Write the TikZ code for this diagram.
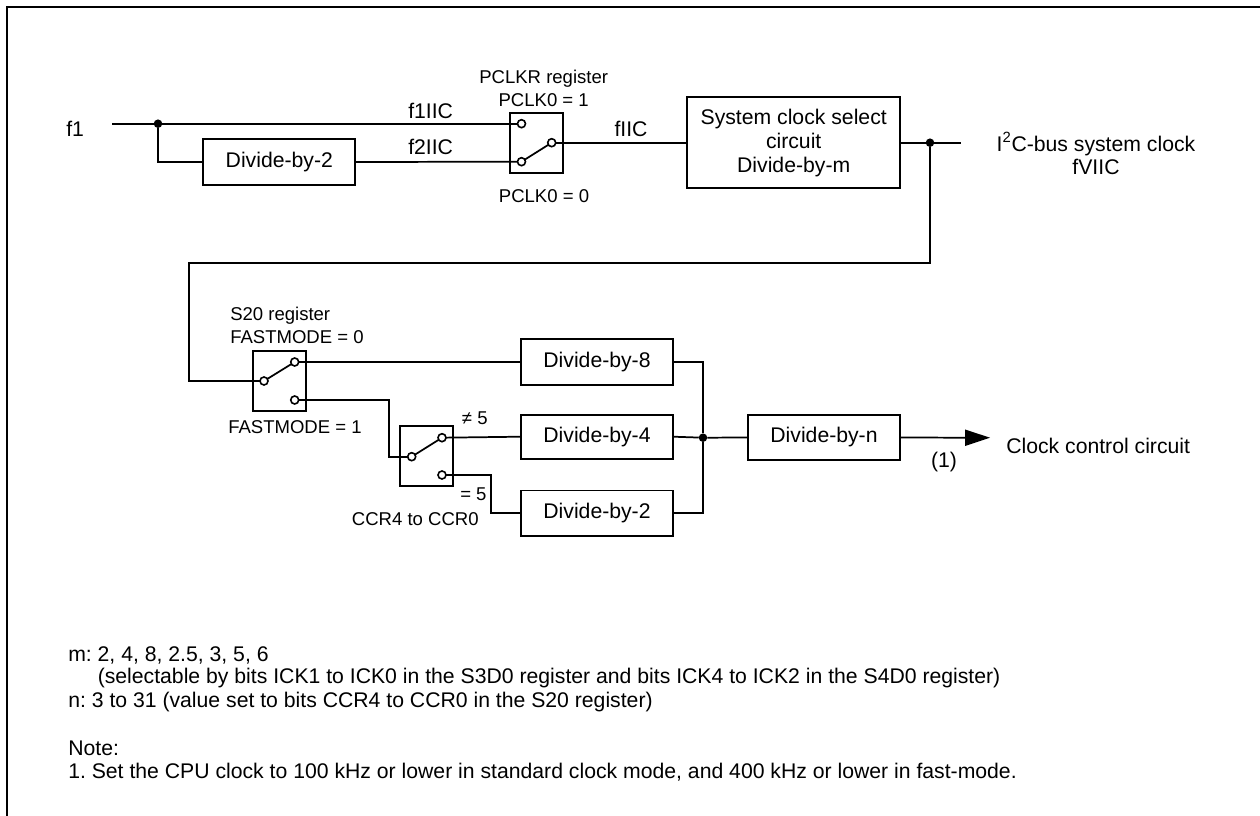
\documentclass[tikz,border=0pt]{standalone}
\usepackage{fontspec}
\setmainfont{Liberation Sans}
\begin{document}
\frenchspacing
\begin{tikzpicture}[x=0.75pt,y=-0.75pt,
  wire/.style={line width=1.3pt},
  blockbox/.style={draw,line width=1.3pt,inner sep=0pt,outer sep=0pt,align=center,font=\fontsize{15.9pt}{18pt}\selectfont},
  swbox/.style={draw,line width=1.3pt,inner sep=0pt,outer sep=0pt,minimum width=39.75pt,minimum height=45pt},
  contact/.style={circle,draw,fill=white,line width=1.2pt,inner sep=0pt,outer sep=0pt,minimum size=6pt},
  dot/.style={circle,fill=black,inner sep=0pt,outer sep=0pt,minimum size=6.4pt},
  big/.style={inner sep=0pt,font=\fontsize{15.9pt}{18pt}\selectfont},
  small/.style={inner sep=0pt,font=\fontsize{13.9pt}{16pt}\selectfont}]
\useasboundingbox (0,0) rectangle (1260,816);
\draw[line width=1.5pt] (7,816) -- (7,7) -- (1260,7);
\def\bx#1#2#3#4#5#6{\node[blockbox,minimum width=#4*0.75pt,minimum height=#5*0.75pt] (#1) at (#2,#3) {#6};}
% row one
\coordinate (in) at (112,123.7);
\node[dot] (j1) at (158,123.7) {};
\bx{d2}{279.3}{162}{152}{45.4}{Divide-by-2}
\node[swbox] (sw1) at (536.5,143) {};
\node[contact] (c1a) at (521.5,123.7) {};
\node[contact] (c1b) at (521.5,161.7) {};
\node[contact] (c1o) at (551.7,142.7) {};
\bx{sys}{793.7}{142.7}{212.7}{90.7}{System clock select\\circuit\\Divide-by-m}
\coordinate (out) at (961,142.7);
\node[dot] (j2) at (930,142.7) {};
\draw[wire] (in) -- (j1) -- (c1a);
\draw[wire] (j1) |- (d2.west);
\draw[wire] (d2.east) -- (c1b);
\draw[wire] (c1b) -- (c1o);
\draw[wire] (c1o) -- (sys.west);
\draw[wire] (sys.east) -- (out);
% switch two
\node[swbox] (sw2) at (279.5,381) {};
\node[contact] (c2i) at (264,381) {};
\node[contact] (c2a) at (294.7,362) {};
\node[contact] (c2b) at (294.7,400) {};
\node[swbox] (sw3) at (426.7,456) {};
\node[contact] (c3i) at (411.7,456.7) {};
\node[contact] (c3a) at (442,437.7) {};
\node[contact] (c3b) at (442,475) {};
\bx{d8}{597}{362}{152}{45.4}{Divide-by-8}
\bx{d4}{597}{436.7}{152}{44}{Divide-by-4}
\bx{d22}{597}{513.3}{152}{45.4}{Divide-by-2}
\bx{dn}{824}{437.5}{152}{45}{Divide-by-n}
\node[dot] (j3) at (703,437.7) {};
\coordinate (tip) at (990,437.7);
\coordinate (c1) at (930,263.3);
\coordinate (c2) at (188.7,263.3);
\coordinate (c3) at (188.7,381);
\draw[wire] (j2) -- (c1) -- (c2) -- (c3) -- (c2i);
\draw[wire] (c2i) -- (c2a);
\draw[wire] (c2a) -- (d8.west);
\draw[wire] (c2b) -- (389,400) -- (389,456.7) -- (c3i);
\draw[wire] (c3i) -- (c3a);
\draw[wire] (c3a) -- (d4.west);
\draw[wire] (c3b) -- (491.3,475) -- (491.3,513.3) -- (d22.west);
\draw[wire] (d8.east) -| (j3);
\draw[wire] (d22.east) -| (j3);
\draw[wire] (d4.east) -- (j3) -- (dn.west);
\draw[wire] (dn.east) -- (965,437.7);
\fill (965,429.5) -- (tip) -- (965,446) -- cycle;
% labels
\node[big,anchor=west] (t1) at (66,129) {f1};
\node[big,anchor=west] (t2) at (408,110.7) {f1IIC};
\node[big,anchor=west] (t3) at (408,147) {f2IIC};
\node[small] (t4) at (543.7,79) {PCLKR register};
\node[small] (t5) at (543.7,100) {PCLK0 = 1};
\node[small] (t6) at (544,196) {PCLK0 = 0};
\node[big] (t7) at (631,129) {fIIC};
\node[big] (t8) at (1096,144) {I\textsuperscript{2}C-bus system clock};
\node[big] (t9) at (1096,166.7) {fVIIC};
\node[small,anchor=west] (t10) at (230,316) {S20 register};
\node[small,anchor=west] (t11) at (230,336.7) {FASTMODE = 0};
\node[small,anchor=west] (t12) at (228,427) {FASTMODE = 1};
\node[small,anchor=west] (t13) at (461.7,418) {≠ 5};
\node[small,anchor=west] (t14) at (460,494) {= 5};
\node[small,anchor=west] (t15) at (351.7,519) {CCR4 to CCR0};
\node[big] (t16) at (944,461.7) {(1)};
\node[big,anchor=west] (t17) at (1006,446) {Clock control circuit};
\node[big,anchor=west] (t18) at (68,655) {m: 2, 4, 8, 2.5, 3, 5, 6};
\node[big,anchor=west] (t19) at (97.5,678) {(selectable by bits ICK1 to ICK0 in the S3D0 register and bits ICK4 to ICK2 in the S4D0 register)};
\node[big,anchor=west] (t20) at (68,702) {n: 3 to 31 (value set to bits CCR4 to CCR0 in the S20 register)};
\node[big,anchor=west] (t21) at (68,748) {Note:};
\node[big,anchor=west] (t22) at (68,772) {1. Set the CPU clock to 100 kHz or lower in standard clock mode, and 400 kHz or lower in fast-mode.};
\end{tikzpicture}
\end{document}
